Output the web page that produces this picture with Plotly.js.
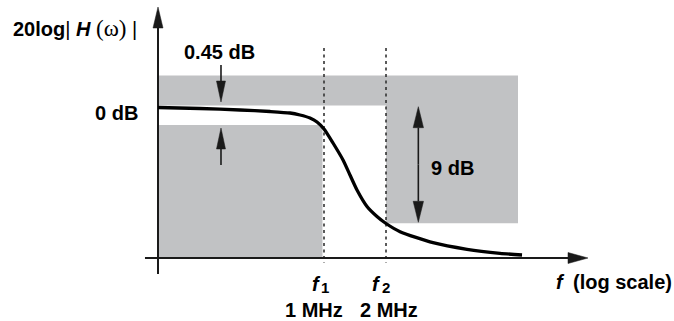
<!DOCTYPE html>
<html>
<head>
<meta charset="utf-8">
<script src="https://cdn.plot.ly/plotly-3.0.1.min.js"></script>
<style>html,body{margin:0;padding:0;background:#fff;}#chart{width:674px;height:321px;}</style>
</head>
<body>
<div id="chart"></div>
<script>
// ---- data (frequency in MHz, level in arbitrary schematic units; 0 = x-axis) ----
const freqMHz = [0.1564, 0.25, 0.3911, 0.5468, 0.6839, 0.7647, 0.8551, 0.9248, 1.0, 1.106, 1.237, 1.337, 1.446, 1.617, 1.808, 2.0, 2.339, 3.382, 4.945, 7.15, 9.146];
const levelCurve = [150.5, 149.5, 148, 146.5, 145, 143, 140, 136, 129, 115, 98, 83, 68, 51.5, 41.5, 34.5, 26.3, 15.3, 8.7, 4.7, 3];
const cornerFreqs = [1, 2];
const cornerNames = ['1', '2'];
const cornerLabels = ['1 MHz', '2 MHz'];
// tolerance mask (upper band + stopband block) and lower passband block
const maskF = [0.1564, 8.744, 8.744, 2, 2, 0.1564];
const maskLevel = [182.5, 182.5, 34.7, 34.7, 152.5, 152.5];
const passF = [0.1564, 0.983, 0.983, 0.1564];
const passLevel = [133, 133, 0, 0];
// axes
const xAxisF = [0.1352, 19.12];
const yAxisF = 0.1564;
const yAxisLevel = [-16, 251];
// dimension arrows
const arrowF = [0.3162, 0.3162, 2.87, 2.87];
const arrowTail = [193, 93, 93.5, 93.5];
const arrowTip = [156, 130, 151.3, 35.7];
const ripple = '0.45 dB';
const stopAtten = '9 dB';
const zeroLabel = '0 dB';
const xTitle = '(log scale)';

// ---- layout geometry ----
const W = 674, H = 321;
const xRange = [-1.5728, 1.6990];
const yRange = [-63, 258];
const pxPerDec = W / (xRange[1] - xRange[0]);
const pxPerUnit = H / (yRange[1] - yRange[0]);
const ink = '#1a1a1a';
const gray = '#c1c2c4';
const FONT = 'Liberation Sans, Arial, Helvetica, sans-serif';
const FS = 20;

const traces = [];
// gray mask regions
traces.push({x: maskF, y: maskLevel, fill: 'toself', fillcolor: gray, mode: 'lines', line: {width: 0, color: gray}, hoverinfo: 'skip'});
traces.push({x: passF, y: passLevel, fill: 'toself', fillcolor: gray, mode: 'lines', line: {width: 0, color: gray}, hoverinfo: 'skip'});
// dashed corner lines
cornerFreqs.forEach(f => traces.push({x: [f, f], y: [210, -5], mode: 'lines', line: {color: '#333', width: 1.6, dash: '3px,3.5px'}, hoverinfo: 'skip'}));

// arrow helper: shaft + filled head in data coords via pixel sizes
function head(f, lvl, dir, L, hw) {
  const dx = p => p / pxPerDec, dy = p => p / pxPerUnit;
  const lf = Math.log10(f);
  let xs, ys;
  if (dir === 'up' || dir === 'down') {
    const s = dir === 'up' ? -1 : 1;
    const base = lvl + s * dy(L);
    xs = [f, Math.pow(10, lf - dx(hw)), Math.pow(10, lf + dx(hw)), f];
    ys = [lvl, base, base, lvl];
    return {xs, ys, baseX: f, baseY: base};
  } else {
    const b = Math.pow(10, lf - dx(L));
    xs = [f, b, b, f];
    ys = [lvl, lvl + dy(hw), lvl - dy(hw), lvl];
    return {xs, ys, baseX: b, baseY: lvl};
  }
}
function addArrow(x0, y0, x1, y1, dir, L, hw, w) {
  const h = head(x1, y1, dir, L, hw);
  traces.push({x: [x0, h.baseX], y: [y0, h.baseY], mode: 'lines', line: {color: ink, width: w}, hoverinfo: 'skip'});
  traces.push({x: h.xs, y: h.ys, fill: 'toself', fillcolor: ink, mode: 'lines', line: {color: ink, width: 0.5}, hoverinfo: 'skip'});
}
// axes
addArrow(xAxisF[0], 0, xAxisF[1], 0, 'right', 20, 5.5, 2);
addArrow(yAxisF, yAxisLevel[0], yAxisF, yAxisLevel[1], 'up', 21, 5, 2);
// dimension arrows
for (let i = 0; i < arrowF.length; i++) {
  const dir = arrowTip[i] > arrowTail[i] ? 'up' : 'down';
  addArrow(arrowF[i], arrowTail[i], arrowF[i], arrowTip[i], dir, 21, i < 2 ? 4.5 : 5.2, 1.6);
}
// response curve
traces.push({x: freqMHz, y: levelCurve, mode: 'lines', line: {color: '#000', width: 3.3, shape: 'spline', smoothing: 0.6}, hoverinfo: 'skip'});

const fAt = px => Math.pow(10, xRange[0] + px / pxPerDec);
const txt = (text, f, lvl, anchor, xshift, size) => ({
  text: text, x: Math.log10(f), y: lvl, xref: 'x', yref: 'y', showarrow: false,
  xanchor: anchor || 'center', yanchor: 'middle', xshift: xshift || 0, borderpad: 0,
  font: {family: FONT, size: size || FS, color: '#000'}
});
const annotations = [
  txt('<b>20log</b>|&nbsp;<b><i>H</i></b> <span style="font-family:Liberation Serif, serif;font-size:23px">(ω)</span>&nbsp;|', fAt(12), 230, 'left'),
  txt('<b>' + ripple + '</b>', fAt(219), 206),
  txt('<b>' + zeroLabel + '</b>', fAt(139), 145, 'right'),
  txt('<b>' + stopAtten + '</b>', fAt(452), 90),
  txt('<b><i>f</i></b>', fAt(560.5), -24),
  txt('<b>' + xTitle + '</b>', fAt(622.5), -24),
];
const fShift = [-8, -9.5], subShift = [0.5, 0], mhzShift = [-10, 3];
cornerFreqs.forEach((f, i) => {
  annotations.push(txt('<b><i>f</i></b>', f, -26, 'center', fShift[i]));
  annotations.push(txt('<b>' + cornerNames[i] + '</b>', f, -29, 'center', subShift[i], 15));
  annotations.push(txt('<b>' + cornerLabels[i] + '</b>', f, -52, 'center', mhzShift[i]));
});

const layout = {
  width: W, height: H, margin: {l: 0, r: 0, t: 0, b: 0, pad: 0},
  paper_bgcolor: '#fff', plot_bgcolor: '#fff', showlegend: false,
  xaxis: {type: 'log', range: xRange, visible: false, fixedrange: true},
  yaxis: {range: yRange, visible: false, fixedrange: true},
  annotations: annotations
};
Plotly.newPlot('chart', traces, layout, {staticPlot: true, displayModeBar: false});
</script>
</body>
</html>
